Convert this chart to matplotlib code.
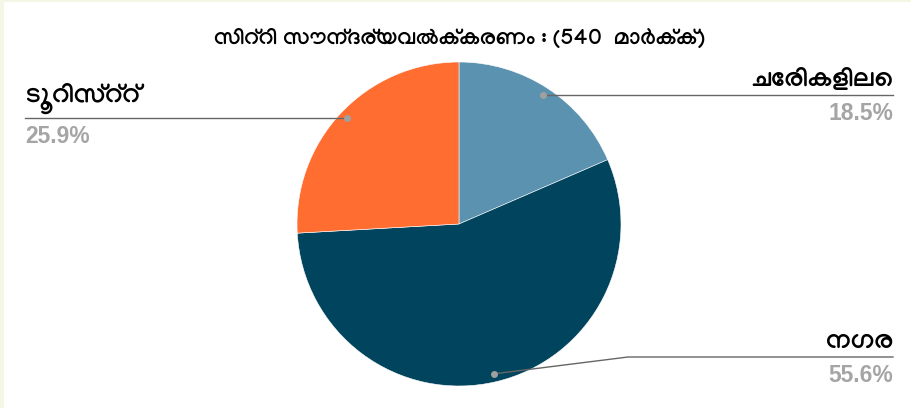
import numpy as np
import matplotlib
matplotlib.use("Agg")
import matplotlib.pyplot as plt
from matplotlib.patches import Rectangle

# data
labels = ["ചേരികളിലെ", "നഗര", "ടൂറിസ്റ്റ്"]
values = [18.5, 55.6, 25.9]
colors = ["#5a92b0", "#01445e", "#ff6d31"]
title = "സിറ്റി സൗന്ദര്യവൽക്കരണം : (540  മാർക്ക്)"

ml_font = ["Manjari", "DejaVu Sans"]
num_font = ["Liberation Sans", "DejaVu Sans"]

W, H = 911, 408
fig = plt.figure(figsize=(W / 100, H / 100), dpi=100)
fig.patch.set_facecolor("#f4f6e6")
fig.patches.append(Rectangle((4 / W, 0), 1, 1 - 2 / H, transform=fig.transFigure,
                             facecolor="white", edgecolor="none", zorder=-10))

ax = fig.add_axes([0, 0, 1, 1])
ax.patch.set_alpha(0)
cx, cy, R = 459, H - 224, 162
ax.pie(values, colors=colors, startangle=90, counterclock=False,
       center=(cx, cy), radius=R, frame=True,
       wedgeprops=dict(edgecolor="white", linewidth=0.4))
ax.set_xlim(0, W)
ax.set_ylim(0, H)
ax.set_aspect("auto")
ax.axis("off")

# anchor points at slice middles
fr = np.cumsum([0] + values) / sum(values)
mids = 90 - 360 * (fr[:-1] + fr[1:]) / 2
ax_pts = [(cx + 0.95 * R * np.cos(np.radians(a)), cy + 0.95 * R * np.sin(np.radians(a))) for a in mids]

line_c = "#666666"
pct_c = "#a5a5a5"
lab_fs = 19
pct_fs = 16.5

# ചേരികളിലെ (right, top)
x0, y0 = ax_pts[0]
ax.plot([x0, 893], [y0, y0], color=line_c, lw=1)
ax.text(893, y0 + 4, labels[0], ha="right", va="bottom", fontsize=lab_fs,
        fontweight="bold", family=ml_font)
ax.text(893, y0 - 7, f"{values[0]}%", ha="right", va="top", fontsize=pct_fs,
        fontweight="bold", family=num_font, color=pct_c)

# നഗര (right, bottom)
x1, y1 = ax_pts[1]
ly = H - 357
ax.plot([x1, 628, 893], [y1, ly, ly], color=line_c, lw=1)
ax.text(893, ly + 4, labels[1], ha="right", va="bottom", fontsize=lab_fs,
        fontweight="bold", family=ml_font)
ax.text(893, ly - 7, f"{values[1]}%", ha="right", va="top", fontsize=pct_fs,
        fontweight="bold", family=num_font, color=pct_c)

# ടൂറിസ്റ്റ് (left)
x2, y2 = ax_pts[2]
ax.plot([25, x2], [y2, y2], color=line_c, lw=1)
ax.text(25, y2 + 4, labels[2], ha="left", va="bottom", fontsize=lab_fs,
        fontweight="bold", family=ml_font)
ax.text(25, y2 - 7, f"{values[2]}%", ha="left", va="top", fontsize=pct_fs,
        fontweight="bold", family=num_font, color=pct_c)

for x, y in ax_pts:
    ax.plot(x, y, "o", color="#a0a0a0", ms=5, mec="none")

ax.text(cx, H - 38, title, ha="center", va="center", fontsize=16,
        fontweight="bold", family=ml_font)

fig.savefig("out.png", dpi=100, facecolor=fig.get_facecolor())
